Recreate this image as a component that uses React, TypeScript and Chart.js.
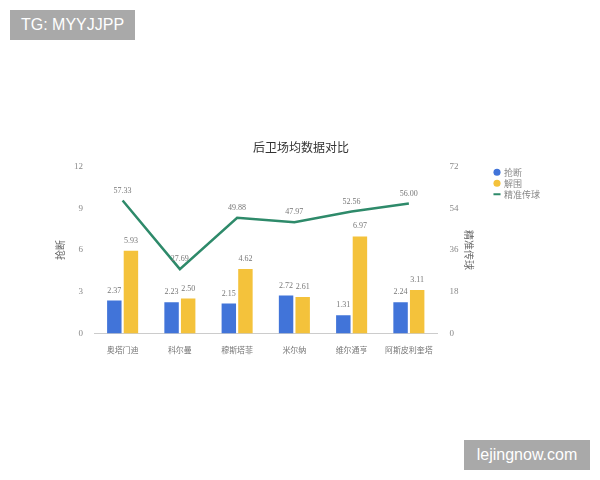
import React, { useEffect, useRef } from "react";
import { Chart, registerables } from "chart.js";

Chart.register(...registerables);

const categories = ["奥塔门迪", "科尔曼", "穆斯塔菲", "米尔纳", "维尔通亨", "阿斯皮利奎塔"];
const steals = [2.37, 2.23, 2.15, 2.72, 1.31, 2.24];
const clearances = [5.93, 2.5, 4.62, 2.61, 6.97, 3.11];
const passes = [57.33, 27.69, 49.88, 47.97, 52.56, 56.0];

const FONT = "'Liberation Serif', 'Noto Sans CJK SC', serif";
const CJK = "'Noto Sans CJK SC', sans-serif";

const labelPlugin = {
  id: "valueLabels",
  afterDatasetsDraw(chart: any) {
    const ctx = chart.ctx;
    ctx.save();
    ctx.font = `8px ${FONT}`;
    ctx.fillStyle = "#777";
    ctx.textAlign = "center";
    ctx.textBaseline = "middle";
    chart.data.datasets.forEach((ds: any, i: number) => {
      const meta = chart.getDatasetMeta(i);
      meta.data.forEach((el: any, j: number) => {
        const v = ds.data[j];
        ctx.fillText(Number(v).toFixed(2), el.x, el.y - 10);
      });
    });
    ctx.restore();
  },
};

export default function App() {
  const ref = useRef<HTMLCanvasElement>(null);
  useEffect(() => {
    if (!ref.current) return;
    const chart = new Chart(ref.current, {
      type: "bar",
      data: {
        labels: categories,
        datasets: [
          {
            type: "line",
            label: "精准传球",
            data: passes,
            yAxisID: "y1",
            borderColor: "#2e8a6a",
            backgroundColor: "#2e8a6a",
            borderWidth: 2.5,
            pointRadius: 0,
            tension: 0,
            order: 0,
          } as any,
          {
            label: "抢断",
            data: steals,
            yAxisID: "y",
            backgroundColor: "#4174d9",
            categoryPercentage: 0.58,
            barPercentage: 0.87,
            order: 1,
          },
          {
            label: "解围",
            data: clearances,
            yAxisID: "y",
            backgroundColor: "#f4c23b",
            categoryPercentage: 0.58,
            barPercentage: 0.87,
            order: 1,
          },
        ],
      },
      options: {
        responsive: false,
        animation: false,
        devicePixelRatio: 1,
        layout: { padding: { left: 52, right: 50, top: 140, bottom: 121 } },
        plugins: {
          title: {
            display: true,
            text: "后卫场均数据对比",
            color: "#333",
            font: { family: CJK, size: 12, weight: "normal" },
            padding: { top: 0, bottom: 12 },
          },
          legend: {
            position: "right",
            align: "start",
            title: { display: true, text: " ", font: { size: 9 }, padding: { top: 12, bottom: 3 } },
            labels: {
              usePointStyle: true,
              boxWidth: 5,
              boxHeight: 5,
              padding: 2,
              color: "#888",
              font: { family: CJK, size: 9 },
              generateLabels: (chart: any) => {
                const order = [1, 2, 0];
                return order.map((i) => {
                  const ds = chart.data.datasets[i];
                  return {
                    text: ds.label,
                    fillStyle: ds.backgroundColor,
                    strokeStyle: ds.backgroundColor,
                    lineWidth: i === 0 ? 2 : 0,
                    pointStyle: i === 0 ? "line" : "circle",
                    datasetIndex: i,
                    fontColor: "#888",
                  };
                });
              },
            },
          },
          tooltip: { enabled: false },
        },
        scales: {
          x: {
            grid: { display: false },
            border: { display: true, color: "#ccc" },
            ticks: { color: "#777", font: { family: CJK, size: 8 }, padding: 4 },
          },
          y: {
            position: "left",
            min: 0,
            max: 12,
            ticks: { stepSize: 3, color: "#888", font: { family: FONT, size: 9 }, padding: 3 },
            grid: { display: false },
            border: { display: false },
            title: { display: true, text: "抢断", color: "#666", font: { family: CJK, size: 10 }, padding: { top: 2, bottom: 5 } },
          },
          y1: {
            position: "right",
            min: 0,
            max: 72,
            ticks: { stepSize: 18, color: "#888", font: { family: FONT, size: 9 }, padding: 4 },
            grid: { display: false },
            border: { display: false },
            title: { display: true, text: "精准传球", color: "#666", font: { family: CJK, size: 10 }, padding: { top: 18, bottom: 0 } },
          },
        },
      },
      plugins: [labelPlugin],
    });
    return () => chart.destroy();
  }, []);

  const badge: React.CSSProperties = {
    position: "absolute",
    background: "#a9a9a9",
    color: "#fff",
    fontFamily: "'Liberation Sans', Arial, sans-serif",
    fontSize: 16,
    lineHeight: "30px",
    textAlign: "center",
    width: 125,
    height: 30,
  };

  return (
    <div style={{ position: "absolute", left: 0, top: 0, width: 600, height: 480, background: "#fff" }}>
      <canvas ref={ref} width={600} height={480} style={{ width: 600, height: 480, display: "block" }} />
      <div style={{ ...badge, left: 10, top: 10 }}>TG: MYYJJPP</div>
      <div style={{ ...badge, left: 464, top: 440, width: 126 }}>lejingnow.com</div>
    </div>
  );
}
